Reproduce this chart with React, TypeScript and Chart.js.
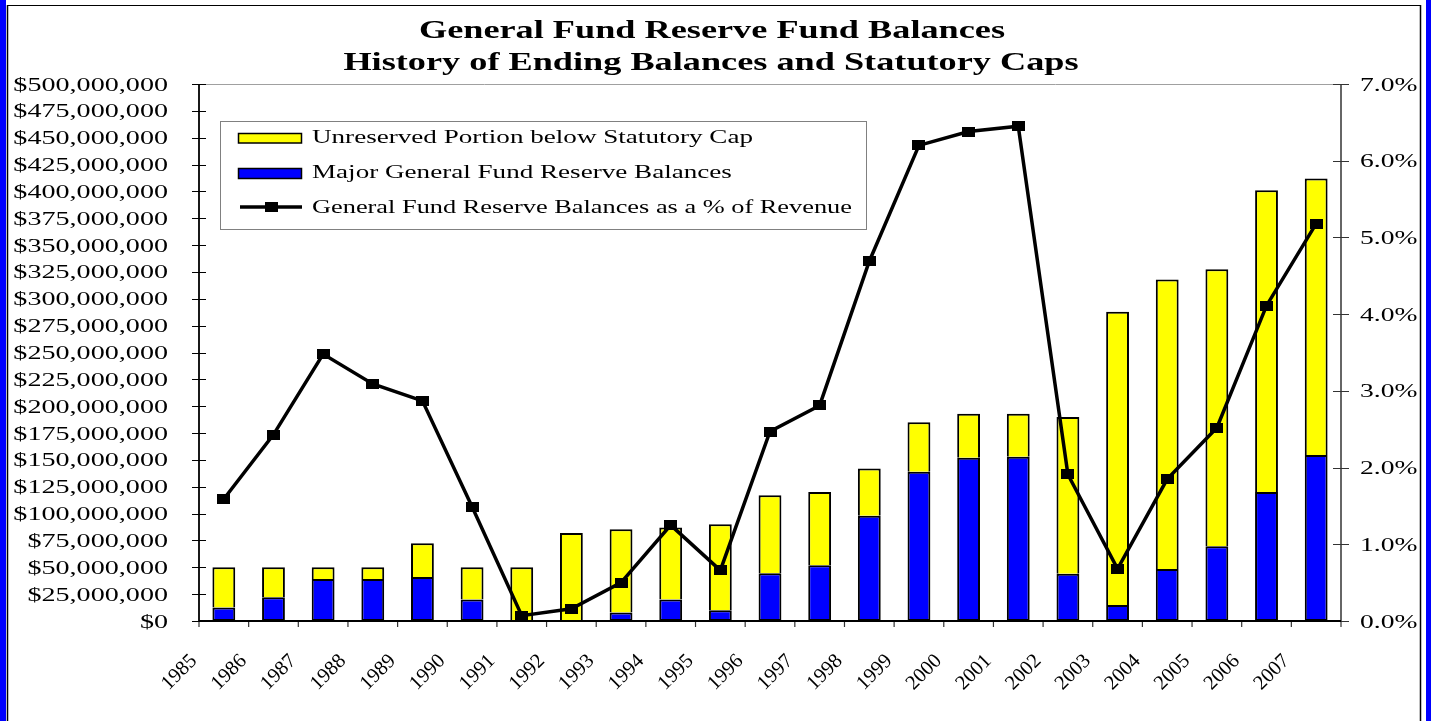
import { useEffect, useRef } from "react";
import { Chart, registerables } from "chart.js";

Chart.register(...registerables);

const years = [
  "1985", "1986", "1987", "1988", "1989", "1990", "1991", "1992", "1993", "1994", "1995", "1996",
  "1997", "1998", "1999", "2000", "2001", "2002", "2003", "2004", "2005", "2006", "2007",
];

// Millions of dollars
const majorReserve = [
  12.5, 22, 39, 39, 41, 20, 0, 1, 8, 20, 10, 44.5, 52, 98, 139, 152, 153, 44, 15, 48.5, 69.5, 120, 154.5,
];
const unreservedBelowCap = [
  37.5, 28, 11, 11, 31.5, 30, 50, 81, 77.5, 67, 80, 72.5, 68, 44, 46, 41, 40, 146, 273, 269.5, 258, 281, 257.5,
];
// Percent of revenue
const pctOfRevenue = [
  1.59, 2.43, 3.48, 3.09, 2.87, 1.49, 0.07, 0.16, 0.5, 1.25, 0.66, 2.47, 2.81, 4.69, 6.2, 6.38, 6.45, 1.91,
  0.68, 1.85, 2.52, 4.11, 5.18,
];

const leftTickLabels = [
  "$0", "$25,000,000", "$50,000,000", "$75,000,000", "$100,000,000", "$125,000,000", "$150,000,000",
  "$175,000,000", "$200,000,000", "$225,000,000", "$250,000,000", "$275,000,000", "$300,000,000",
  "$325,000,000", "$350,000,000", "$375,000,000", "$400,000,000", "$425,000,000", "$450,000,000",
  "$475,000,000", "$500,000,000",
];
const rightTickLabels = ["0.0%", "1.0%", "2.0%", "3.0%", "4.0%", "5.0%", "6.0%", "7.0%"];

const titleLines = ["General Fund Reserve Fund Balances", "History of Ending Balances and Statutory Caps"];
const legendLabels = [
  "Unreserved Portion below Statutory Cap",
  "Major General Fund Reserve Balances",
  "General Fund Reserve Balances as a % of Revenue",
];

const SERIF = "'Liberation Serif', 'Times New Roman', serif";
const SX = 1.45;

function sText(
  ctx: CanvasRenderingContext2D,
  text: string,
  x: number,
  y: number,
  align: "left" | "center" | "right",
  font: string,
  sx: number
) {
  ctx.save();
  ctx.font = font;
  ctx.textBaseline = "alphabetic";
  ctx.textAlign = "left";
  const w = ctx.measureText(text).width * sx;
  let left = x;
  if (align === "center") left = x - w / 2;
  else if (align === "right") left = x - w;
  ctx.translate(left, y);
  ctx.scale(sx, 1);
  ctx.fillStyle = "#000";
  ctx.fillText(text, 0, 0);
  ctx.restore();
}

function line(ctx: CanvasRenderingContext2D, x1: number, y1: number, x2: number, y2: number, color: string, w: number) {
  ctx.save();
  ctx.strokeStyle = color;
  ctx.lineWidth = w;
  ctx.beginPath();
  ctx.moveTo(x1, y1);
  ctx.lineTo(x2, y2);
  ctx.stroke();
  ctx.restore();
}

export default function App() {
  const ref = useRef<HTMLCanvasElement | null>(null);

  useEffect(() => {
    const canvas = ref.current!;
    const pt = document.createElement("canvas");
    pt.width = 13;
    pt.height = 10;
    const pc = pt.getContext("2d")!;
    pc.fillStyle = "#000";
    pc.fillRect(0, 0, 13, 10);

    const decor = {
      id: "decor",
      beforeDraw(chart: any) {
        const ctx: CanvasRenderingContext2D = chart.ctx;
        const W = chart.width;
        const H = chart.height;
        ctx.save();
        ctx.fillStyle = "#fff";
        ctx.fillRect(0, 0, W, H);
        ctx.fillStyle = "#0000ff";
        ctx.fillRect(0, 0, 6, H);
        ctx.fillRect(1426, 0, W - 1426, H);
        ctx.restore();
        line(ctx, 7.5, 5, 7.5, H, "#000", 1.5);
        line(ctx, 7, 5.5, 1421, 5.5, "#000", 1.2);
        line(ctx, 1420.5, 5, 1420.5, H, "#000", 1.5);
      },
      beforeDatasetsDraw(chart: any) {
        const ctx: CanvasRenderingContext2D = chart.ctx;
        const a = chart.chartArea;
        const ys = chart.scales.y;
        const y1 = chart.scales.y1;
        const xs = chart.scales.x;
        line(ctx, a.left, a.top + 0.5, a.right, a.top + 0.5, "#a0a0a0", 1);
        line(ctx, a.right, a.top, a.right, a.bottom, "#333", 1.5);
        leftTickLabels.forEach((_, i) => {
          const y = Math.round(ys.getPixelForValue(i * 25)) + 0.5;
          line(ctx, a.left - 7, y, a.left + 7, y, "#000", 1);
        });
        rightTickLabels.forEach((_, i) => {
          const y = Math.round(y1.getPixelForValue(i)) + 0.5;
          line(ctx, a.right - 8, y, a.right + 8, y, "#333", 1);
        });
        const half = (xs.getPixelForValue(1) - xs.getPixelForValue(0)) / 2;
        for (let i = 0; i <= years.length; i++) {
          const x = xs.getPixelForValue(0) - half + i * half * 2;
          line(ctx, x, a.bottom, x, a.bottom + 6, "#333", 1.2);
        }
      },
      afterDatasetsDraw(chart: any) {
        const ctx: CanvasRenderingContext2D = chart.ctx;
        const a = chart.chartArea;
        line(ctx, a.left, a.top, a.left, a.bottom + 1, "#000", 1.8);
        line(ctx, a.left, a.bottom, a.right, a.bottom, "#000", 1.8);
      },
      afterDraw(chart: any) {
        const ctx: CanvasRenderingContext2D = chart.ctx;
        const a = chart.chartArea;
        const ys = chart.scales.y;
        const y1 = chart.scales.y1;
        const xs = chart.scales.x;

        sText(ctx, titleLines[0], 712, 38, "center", `bold 25px ${SERIF}`, SX);
        sText(ctx, titleLines[1], 711, 70, "center", `bold 25px ${SERIF}`, SX);

        leftTickLabels.forEach((t, i) => {
          const y = ys.getPixelForValue(i * 25);
          sText(ctx, t, 168, y + 6.5, "right", `19.4px ${SERIF}`, SX);
        });
        rightTickLabels.forEach((t, i) => {
          const y = y1.getPixelForValue(i);
          sText(ctx, t, 1360, y + 6.5, "left", `19px ${SERIF}`, SX);
        });

        const half = (xs.getPixelForValue(1) - xs.getPixelForValue(0)) / 2;
        years.forEach((yr, i) => {
          const bx = xs.getPixelForValue(i) - half;
          ctx.save();
          ctx.translate(bx - 5, a.bottom + 37);
          ctx.rotate(-Math.PI / 4);
          ctx.font = `20.5px ${SERIF}`;
          ctx.textAlign = "right";
          ctx.textBaseline = "middle";
          ctx.fillStyle = "#000";
          ctx.fillText(yr, 0, 0);
          ctx.restore();
        });

        ctx.save();
        ctx.fillStyle = "#fff";
        ctx.fillRect(220, 122, 646, 107);
        ctx.strokeStyle = "#808080";
        ctx.lineWidth = 1;
        ctx.strokeRect(220.5, 121.5, 646, 108);
        ctx.fillStyle = "#ffff00";
        ctx.fillRect(238, 133, 64, 10);
        ctx.strokeStyle = "#000";
        ctx.lineWidth = 1.5;
        ctx.strokeRect(238.5, 133.5, 63, 9.5);
        ctx.fillStyle = "#0000ff";
        ctx.fillRect(238, 168, 64, 11);
        ctx.strokeRect(238.5, 168.5, 63, 10);
        ctx.restore();
        line(ctx, 240, 207, 302, 207, "#000", 3.5);
        ctx.save();
        ctx.fillStyle = "#000";
        ctx.fillRect(265, 202, 13, 10);
        ctx.restore();
        sText(ctx, legendLabels[0], 312, 143, "left", `18.7px ${SERIF}`, SX);
        sText(ctx, legendLabels[1], 312, 178, "left", `18.7px ${SERIF}`, SX);
        sText(ctx, legendLabels[2], 312, 213, "left", `18.7px ${SERIF}`, 1.41);
      },
    };

    const chart = new Chart(canvas, {
      type: "bar",
      data: {
        labels: years,
        datasets: [
          {
            type: "line",
            label: legendLabels[2],
            data: pctOfRevenue,
            yAxisID: "y1",
            borderColor: "#000",
            backgroundColor: "#000",
            borderWidth: 3.5,
            tension: 0,
            pointStyle: pt as any,
            pointRadius: 5,
            clip: false as any,
            order: 0,
          } as any,
          {
            type: "bar",
            label: legendLabels[1],
            data: majorReserve,
            yAxisID: "y",
            backgroundColor: "#0000ff",
            borderColor: "#000",
            borderWidth: 2,
            borderSkipped: false,
            barPercentage: 0.46,
            categoryPercentage: 1,
            order: 1,
          } as any,
          {
            type: "bar",
            label: legendLabels[0],
            data: unreservedBelowCap,
            yAxisID: "y",
            backgroundColor: "#ffff00",
            borderColor: "#000",
            borderWidth: 2,
            borderSkipped: "start",
            barPercentage: 0.46,
            categoryPercentage: 1,
            order: 2,
          } as any,
        ],
      },
      options: {
        animation: false,
        responsive: false,
        maintainAspectRatio: false,
        devicePixelRatio: 1,
        layout: { padding: { top: 84, left: 0, right: 0, bottom: 0 } },
        plugins: {
          legend: { display: false },
          title: { display: false },
          tooltip: { enabled: false },
        },
        events: [],
        scales: {
          x: {
            stacked: true,
            offset: true,
            grid: { display: false },
            border: { display: false },
            ticks: { display: false },
            afterFit: (s: any) => {
              s.height = 100;
            },
          },
          y: {
            stacked: true,
            position: "left",
            min: 0,
            max: 500,
            grid: { display: false },
            border: { display: false },
            ticks: { display: false },
            afterFit: (s: any) => {
              s.width = 199;
            },
          },
          y1: {
            position: "right",
            min: 0,
            max: 7,
            grid: { display: false },
            border: { display: false },
            ticks: { display: false },
            afterFit: (s: any) => {
              s.width = 90;
            },
          },
        },
      } as any,
      plugins: [decor],
    });

    return () => chart.destroy();
  }, []);

  return (
    <div style={{ position: "absolute", left: 0, top: 0, width: 1431, height: 721 }}>
      <canvas ref={ref} width={1431} height={721} style={{ display: "block", width: 1431, height: 721 }} />
    </div>
  );
}
